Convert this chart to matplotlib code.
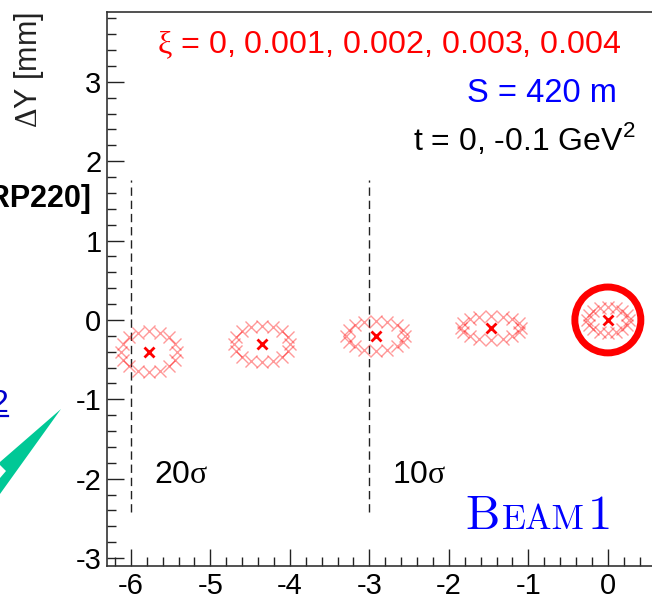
import numpy as np
import matplotlib
matplotlib.use("Agg")
import matplotlib.pyplot as plt
from matplotlib.patches import Polygon, Circle
from matplotlib.ticker import MultipleLocator
from matplotlib.lines import Line2D

plt.rcParams['font.family'] = ['Liberation Sans', 'DejaVu Sans']
plt.rcParams['mathtext.fontset'] = 'custom'
plt.rcParams['mathtext.rm'] = 'Liberation Serif'
plt.rcParams['mathtext.sf'] = 'Liberation Sans'
plt.rcParams['axes.unicode_minus'] = False

# proton displacement at S = 420 m for each xi (t = 0)
xi = [0.004, 0.003, 0.002, 0.001, 0.0]
dx_mm = [-5.77, -4.35, -2.92, -1.47, 0.0]
dy_mm = [-0.40, -0.30, -0.20, -0.10, 0.0]
# t = -0.1 GeV^2: ring of positions around each point (semi-axes in mm)
ring_ax = [0.35, 0.35, 0.37, 0.38, 0.26]
ring_by = [0.26, 0.23, 0.19, 0.15, 0.16]
# azimuthal angle of the scattered proton (deg)
phi_deg = [0, 22.5, 45, 67.5, 90, 112.5, 135, 157.5,
           180, 202.5, 225, 247.5, 270, 292.5, 315, 337.5]
# beam envelope markers
env_x = [-6.0, -3.0]
env_labels = ['20', '10']
env_ylo, env_yhi = -2.42, 1.76

x_ticks = [-6, -5, -4, -3, -2, -1, 0]
y_ticks = [-3, -2, -1, 0, 1, 2, 3]

W, H = 652, 595
fig = plt.figure(figsize=(W / 100, H / 100), dpi=100)


def px(x, y):
    return (x / W, 1 - y / H)


xlo, xhi = -6.3, 0.7
ylo, yhi = -3.10, 3.88
ax_left, ax_top, ax_bottom = 107, 12, 566
ax_w = (xhi - xlo) * 79.5
ax = fig.add_axes([ax_left / W, 1 - ax_bottom / H, ax_w / W, (ax_bottom - ax_top) / H])
ax.set_xlim(xlo, xhi)
ax.set_ylim(ylo, yhi)

for s in ('left', 'bottom', 'top'):
    ax.spines[s].set_color('#333333')
    ax.spines[s].set_linewidth(1.2)
ax.spines['right'].set_visible(False)

ax.set_xticks(x_ticks)
ax.set_yticks(y_ticks)
ax.xaxis.set_minor_locator(MultipleLocator(0.2))
ax.yaxis.set_minor_locator(MultipleLocator(0.2))
ax.tick_params(which='both', direction='in', color='#222222', width=1.0,
               top=False, right=False, labelsize=21, pad=4)
ax.tick_params(which='major', length=12)
ax.tick_params(which='minor', length=6.5)

# envelope lines
for xv in env_x:
    ax.plot([xv, xv], [env_ylo, env_yhi], color='#222222', lw=1.0,
            ls=(0, (6, 3.5)))
for xv, lab in zip(env_x, env_labels):
    ax.text(xv + 0.29, -2.05, lab + r'$\mathrm{\sigma}$', fontsize=23,
            va='baseline', ha='left', color='black')

# t = -0.1 rings
phi = np.radians(phi_deg)
for x0, y0, a, b in zip(dx_mm, dy_mm, ring_ax, ring_by):
    ax.plot(x0 + a * np.cos(phi), y0 + b * np.sin(phi), 'x', ls='none',
            color='red', alpha=0.4, ms=8, mew=1.0)
# t = 0 points
ax.plot(dx_mm, dy_mm, 'x', ls='none', color='red', ms=7, mew=2.0)

# highlight of xi = 0
ax.add_patch(Circle((dx_mm[-1], dy_mm[-1]), 0.415, fill=False,
                    edgecolor='red', lw=5.0, clip_on=False))

# axis title
fig.text(*px(29, 12), r'$\Delta$Y [mm]', rotation=90, ha='center', va='top',
         fontsize=22, color='#222222')

# annotations
xi_str = ', '.join(f'{v:g}' for v in sorted(xi))
fig.text(*px(157, 53), r'$\mathrm{\xi}$ = ' + xi_str, fontsize=23.2, color='red',
         ha='left', va='baseline')
fig.text(*px(617, 102), 'S = 420 m', fontsize=23.5, color='blue',
         ha='right', va='baseline')
fig.text(*px(636, 150), r't = 0, -0.1 GeV$^{\mathsf{2}}$', fontsize=23,
         color='black', ha='right', va='baseline')

# small-caps beam label
renderer = fig.canvas.get_renderer()
xcur = 465
for s, size in (('B', 35), ('EAM', 25.5), ('1', 35)):
    t = fig.text(*px(xcur, 529), s, fontsize=size, family='cmr10',
                 color='blue', ha='left', va='baseline')
    xcur += t.get_window_extent(renderer).width + 3

# slide elements around the plot
fig.text(*px(91, 207), 'RP220]', fontsize=22, fontweight='bold',
         color='black', ha='right', va='baseline')
fig.text(*px(8, 412), '2', fontsize=23, color='#0000cc', ha='right',
         va='baseline')
fig.add_artist(Line2D([0, 8 / W], [1 - 416 / H] * 2, color='#0000cc', lw=1.6))

arrow = Polygon([px(61, 409), px(0, 462), px(0, 494)], closed=True,
                facecolor='#00c896', edgecolor='none', transform=fig.transFigure)
fig.add_artist(arrow)
notch = Polygon([px(0, 465), px(6, 471), px(0, 478)], closed=True,
                facecolor='white', edgecolor='none', transform=fig.transFigure)
fig.add_artist(notch)

fig.savefig('out.png', dpi=100)
